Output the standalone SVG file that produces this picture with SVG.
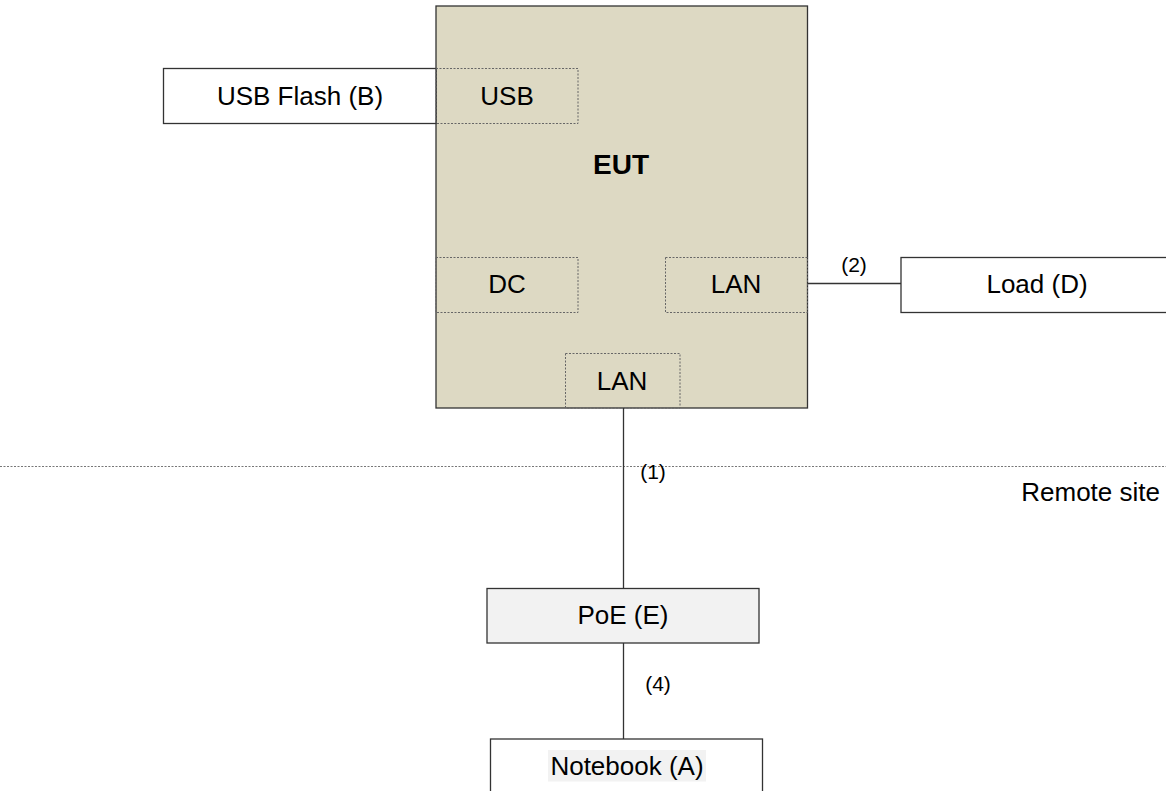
<svg xmlns="http://www.w3.org/2000/svg" width="1166" height="791" viewBox="0 0 1166 791">
<style>
text{font-family:"Liberation Sans",Arial,sans-serif;fill:#000}
.t{font-size:26px;text-anchor:middle}
.s{font-size:21px;text-anchor:middle}
.box{fill:#fff;stroke:#333;stroke-width:1.3}
.port{fill:none;stroke:#666;stroke-width:1;stroke-dasharray:2,1.5}
.ln{stroke:#333;stroke-width:1.3;fill:none}
</style>
<rect width="1166" height="791" fill="#fff"/>
<g id="eut">
<rect x="436" y="6" width="371.5" height="402" fill="#DDD9C3" stroke="#333" stroke-width="1.3"/>
<text x="621" y="174" font-size="28" font-weight="bold" text-anchor="middle">EUT</text>
</g>
<g id="usb-flash">
<rect class="box" x="163.5" y="68.5" width="272.5" height="55"/>
<text class="t" x="300" y="105">USB Flash (B)</text>
</g>
<g id="port-usb">
<rect class="port" x="436" y="68.5" width="142" height="55"/>
<text class="t" x="507" y="105">USB</text>
</g>
<g id="port-dc">
<rect class="port" x="436" y="257.5" width="142" height="55"/>
<text class="t" x="507" y="293">DC</text>
</g>
<g id="port-lan-right">
<rect class="port" x="665.5" y="257.5" width="142" height="55"/>
<text class="t" x="736" y="293">LAN</text>
</g>
<g id="port-lan-bottom">
<rect class="port" x="565.5" y="353.5" width="114.5" height="54.5"/>
<text class="t" x="622" y="390">LAN</text>
</g>
<g id="load">
<rect class="box" x="901" y="257.5" width="280" height="55"/>
<text class="t" x="1037" y="293">Load (D)</text>
</g>
<g id="poe">
<rect x="487" y="588.5" width="272" height="54.5" fill="#F2F2F2" stroke="#333" stroke-width="1.3"/>
<text class="t" x="623" y="624">PoE (E)</text>
</g>
<g id="notebook">
<rect class="box" x="490.5" y="739" width="272" height="70"/>
<rect x="548" y="750" width="158" height="31.5" fill="#F2F2F2"/>
<text class="t" x="627" y="775">Notebook (A)</text>
</g>
<g id="site-boundary">
<line x1="0" y1="466.5" x2="1166" y2="466.5" stroke="#777" stroke-width="1" stroke-dasharray="2,1.5"/>
<text x="1160" y="501" font-size="26" text-anchor="end">Remote site</text>
</g>
<g id="connectors">
<line class="ln" x1="807.5" y1="283.5" x2="901" y2="283.5"/>
<line class="ln" x1="623.5" y1="408" x2="623.5" y2="588.5"/>
<line class="ln" x1="623.5" y1="643" x2="623.5" y2="739"/>
<text class="s" x="854" y="272">(2)</text>
<text class="s" x="653" y="479">(1)</text>
<text class="s" x="658" y="691">(4)</text>
</g>
</svg>
